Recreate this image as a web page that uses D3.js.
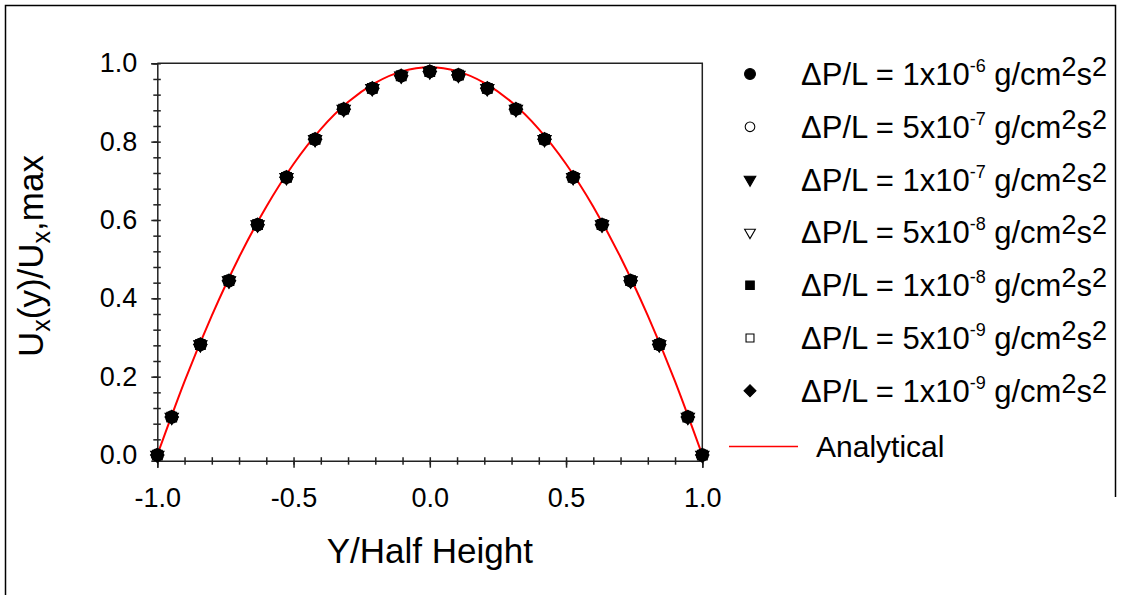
<!DOCTYPE html>
<html>
<head>
<meta charset="utf-8">
<script src="https://cdn.jsdelivr.net/npm/d3@7"></script>
<style>
  html, body { margin: 0; padding: 0; background: #fff; }
  svg { display: block; font-family: "Liberation Sans", Arial, sans-serif; }
</style>
</head>
<body>
<svg id="chart" width="1121" height="595"></svg>
<script>
// ---- Data ----
const yPos = [-1.0, -0.947, -0.842, -0.737, -0.632, -0.526, -0.421, -0.316, -0.211, -0.105, 0.0,
              0.105, 0.211, 0.316, 0.421, 0.526, 0.632, 0.737, 0.842, 0.947, 1.0];
const dp1e6 = [0.0, 0.097, 0.282, 0.445, 0.588, 0.709, 0.806, 0.883, 0.936, 0.968, 0.979, 0.970, 0.936, 0.883, 0.806, 0.709, 0.588, 0.445, 0.282, 0.097, 0.0];
const dp5e7 = [0.0, 0.097, 0.282, 0.445, 0.588, 0.709, 0.806, 0.883, 0.936, 0.968, 0.979, 0.970, 0.936, 0.883, 0.806, 0.709, 0.588, 0.445, 0.282, 0.097, 0.0];
const dp1e7 = [0.0, 0.097, 0.282, 0.445, 0.588, 0.709, 0.806, 0.883, 0.936, 0.968, 0.979, 0.970, 0.936, 0.883, 0.806, 0.709, 0.588, 0.445, 0.282, 0.097, 0.0];
const dp5e8 = [0.0, 0.097, 0.282, 0.445, 0.588, 0.709, 0.806, 0.883, 0.936, 0.968, 0.979, 0.970, 0.936, 0.883, 0.806, 0.709, 0.588, 0.445, 0.282, 0.097, 0.0];
const dp1e8 = [0.0, 0.097, 0.282, 0.445, 0.588, 0.709, 0.806, 0.883, 0.936, 0.968, 0.979, 0.970, 0.936, 0.883, 0.806, 0.709, 0.588, 0.445, 0.282, 0.097, 0.0];
const dp5e9 = [0.0, 0.097, 0.282, 0.445, 0.588, 0.709, 0.806, 0.883, 0.936, 0.968, 0.979, 0.970, 0.936, 0.883, 0.806, 0.709, 0.588, 0.445, 0.282, 0.097, 0.0];
const dp1e9 = [0.0, 0.097, 0.282, 0.445, 0.588, 0.709, 0.806, 0.883, 0.936, 0.968, 0.979, 0.970, 0.936, 0.883, 0.806, 0.709, 0.588, 0.445, 0.282, 0.097, 0.0];

const analyticX = [-1.0, -0.9, -0.8, -0.7, -0.6, -0.5, -0.4, -0.3, -0.2, -0.1, 0.0, 0.1, 0.2, 0.3, 0.4, 0.5, 0.6, 0.7, 0.8, 0.9, 1.0];
const analyticY = [0.0, 0.188, 0.356, 0.505, 0.634, 0.743, 0.832, 0.901, 0.950, 0.980, 0.990, 0.980, 0.950, 0.901, 0.832, 0.743, 0.634, 0.505, 0.356, 0.188, 0.0];

const seriesMantissa = ["1", "5", "1", "5", "1", "5", "1"];
const seriesExponent = ["-6", "-7", "-7", "-8", "-8", "-9", "-9"];
const seriesSymbols = ["circle", "circle", "triangle", "triangle", "square", "square", "diamond"];
const seriesFilled = [true, false, true, false, true, false, true];
const seriesValues = [dp1e6, dp5e7, dp1e7, dp5e8, dp1e8, dp5e9, dp1e9];

const xMajorTicks = [-1.0, -0.5, 0.0, 0.5, 1.0];
const xMinorTicks = [-1.0, -0.9, -0.8, -0.7, -0.6, -0.5, -0.4, -0.3, -0.2, -0.1, 0.0, 0.1, 0.2, 0.3, 0.4, 0.5, 0.6, 0.7, 0.8, 0.9, 1.0];
const yMajorTicks = [0.0, 0.2, 0.4, 0.6, 0.8, 1.0];
const yMinorTicks = [0.0, 0.04, 0.08, 0.12, 0.16, 0.2, 0.24, 0.28, 0.32, 0.36, 0.4, 0.44, 0.48, 0.52, 0.56, 0.6, 0.64, 0.68, 0.72, 0.76, 0.8, 0.84, 0.88, 0.92, 0.96, 1.0];

// ---- Layout ----
const svg = d3.select("#chart");
const L = 157.3, R = 702.3, T = 63.3, B = 460.7;
const x = d3.scaleLinear().domain([-1, 1]).range([L, R]);
const y = d3.scaleLinear().domain([-0.0145, 1]).range([B, T]);
const FONT = "'Liberation Sans', Arial, sans-serif";
const fmt = d => d3.format(".1f")(d).replace("\u2212", "-");

// outer frame
svg.append("path")
  .attr("d", "M5.5,595 L5.5,5.5 L1115.5,5.5 L1115.5,497")
  .attr("fill", "none").attr("stroke", "#000").attr("stroke-width", 1.5);

// plot box (top & right)
svg.append("path")
  .attr("d", `M${L},${T} L${R},${T} L${R},${B}`)
  .attr("fill", "none").attr("stroke", "#222").attr("stroke-width", 1.5);

// x axis minor ticks
const gxMinor = svg.append("g").attr("transform", `translate(0,${B})`)
  .call(d3.axisBottom(x).tickValues(xMinorTicks).tickSize(4).tickFormat(""));
gxMinor.select(".domain").remove();
gxMinor.selectAll("line").attr("y1", -3.5).attr("stroke", "#222").attr("stroke-width", 1.5);

// x axis major
const gx = svg.append("g").attr("transform", `translate(0,${B})`)
  .call(d3.axisBottom(x).tickValues(xMajorTicks).tickSize(7).tickPadding(20).tickFormat(fmt));
gx.select(".domain").attr("stroke", "#222").attr("stroke-width", 1.5);
gx.selectAll("line").attr("stroke", "#222").attr("stroke-width", 1.5);
gx.selectAll("text").attr("font-size", 27).attr("font-family", FONT).attr("fill", "#000");

// y axis minor ticks
const gyMinor = svg.append("g").attr("transform", `translate(${L},0)`)
  .call(d3.axisLeft(y).tickValues(yMinorTicks).tickSize(4).tickFormat(""));
gyMinor.select(".domain").remove();
gyMinor.selectAll("line").attr("x1", 3.5).attr("stroke", "#222").attr("stroke-width", 1.5);

// y axis major
const gy = svg.append("g").attr("transform", `translate(${L},0)`)
  .call(d3.axisLeft(y).tickValues(yMajorTicks).tickSize(6).tickPadding(14).tickFormat(fmt));
gy.select(".domain").attr("stroke", "#222").attr("stroke-width", 1.5);
gy.selectAll("line").attr("stroke", "#222").attr("stroke-width", 1.5);
gy.selectAll("text").attr("font-size", 27).attr("font-family", FONT).attr("fill", "#000");

// axis titles
svg.append("text")
  .attr("x", x(0)).attr("y", 563)
  .attr("text-anchor", "middle").attr("font-size", 35).attr("font-family", FONT)
  .text("Y/Half Height");

const yt = svg.append("text")
  .attr("transform", `translate(43,256) rotate(-90)`)
  .attr("text-anchor", "middle").attr("font-size", 35).attr("font-family", FONT);
yt.append("tspan").text("U");
yt.append("tspan").attr("font-size", 25).attr("dy", 7).text("x");
yt.append("tspan").attr("dy", -7).text("(y)/U");
yt.append("tspan").attr("font-size", 25).attr("dy", 7).text("x");
yt.append("tspan").attr("dy", -7).text(",max");

// symbol generator
function symbolPath(kind, filled) {
  if (kind === "circle") return d3.symbol().type(d3.symbolCircle).size(filled ? 115 : 90)();
  if (kind === "triangle") return d3.symbol().type(d3.symbolTriangle).size(filled ? 72 : 62)();
  if (kind === "square") return d3.symbol().type(d3.symbolSquare).size(filled ? 90 : 78)();
  return d3.symbol().type(d3.symbolSquare).size(88)();
}
function symbolRotate(kind) {
  if (kind === "triangle") return 180;
  if (kind === "diamond") return 45;
  return 0;
}

// analytical curve
const curveData = analyticX.map((v, i) => [v, analyticY[i]]);
svg.append("path")
  .datum(curveData)
  .attr("fill", "none").attr("stroke", "#ff0000").attr("stroke-width", 2)
  .attr("d", d3.line().x(d => x(d[0])).y(d => y(d[1])).curve(d3.curveNatural));

// data points
seriesValues.forEach((vals, si) => {
  const kind = seriesSymbols[si], filled = seriesFilled[si];
  svg.append("g").selectAll("path")
    .data(vals.map((v, i) => [yPos[i], v]))
    .join("path")
    .attr("d", symbolPath(kind, filled))
    .attr("transform", d => `translate(${x(d[0])},${y(d[1])}) rotate(${symbolRotate(kind)})`)
    .attr("fill", filled ? "#000" : "none")
    .attr("stroke", "#000").attr("stroke-width", 1.3);
});

// legend
const legX = 750, legTextX = 801, legY0 = 74, legDy = 52.8;
seriesValues.forEach((vals, si) => {
  const cy = legY0 + si * legDy;
  const kind = seriesSymbols[si], filled = seriesFilled[si];
  svg.append("path")
    .attr("d", symbolPath(kind, filled))
    .attr("transform", `translate(${legX},${cy}) rotate(${symbolRotate(kind)}) scale(0.9)`)
    .attr("fill", filled ? "#000" : "#fff")
    .attr("stroke", "#000").attr("stroke-width", 1.2);
  const t = svg.append("text").attr("x", legTextX).attr("y", cy + 11)
    .attr("font-size", 31).attr("font-family", FONT).attr("fill", "#000");
  t.append("tspan").text(`\u0394P/L = ${seriesMantissa[si]}x10`);
  t.append("tspan").attr("font-size", 18).attr("dy", -13).text(seriesExponent[si]);
  t.append("tspan").attr("dy", 13).text(" g/cm");
  t.append("tspan").attr("font-size", 27).attr("dy", -9).text("2");
  t.append("tspan").attr("font-size", 31).attr("dy", 9).text("s");
  t.append("tspan").attr("font-size", 27).attr("dy", -9).text("2");
});
const aY = legY0 + 7 * legDy + 3;
svg.append("line").attr("x1", 729).attr("x2", 798).attr("y1", aY).attr("y2", aY)
  .attr("stroke", "#ff0000").attr("stroke-width", 1.5);
svg.append("text").attr("x", 816).attr("y", aY + 10)
  .attr("font-size", 30).attr("font-family", FONT).text("Analytical");
</script>
</body>
</html>
